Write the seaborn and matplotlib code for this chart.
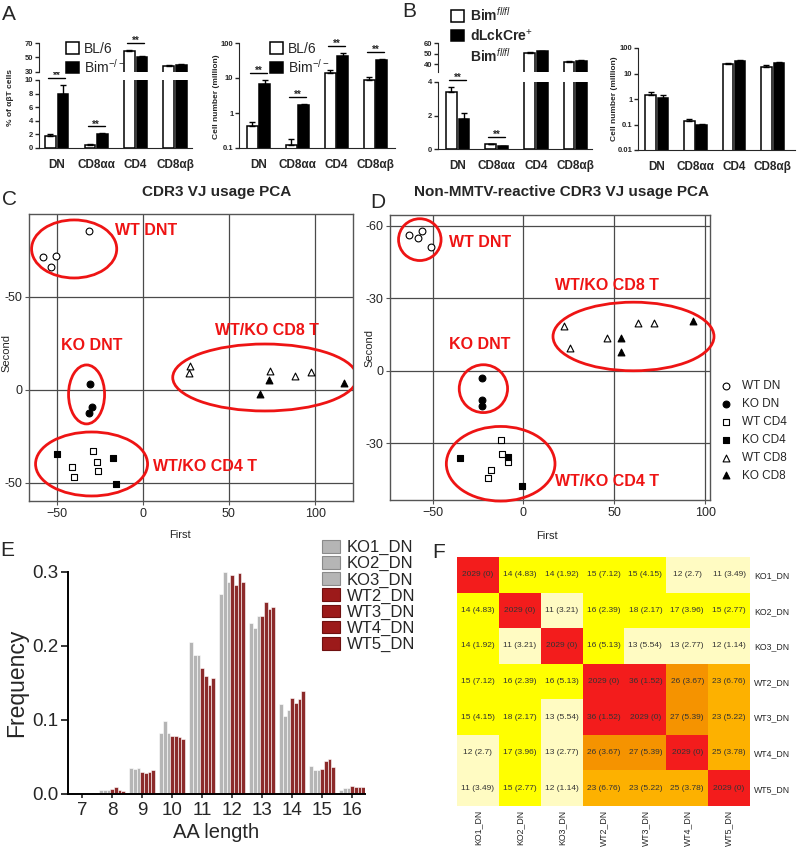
import numpy as np
import pandas as pd
import matplotlib
matplotlib.use('Agg')
import matplotlib.pyplot as plt
import seaborn as sns
from matplotlib.patches import Ellipse, Patch
from matplotlib.colors import ListedColormap, BoundaryNorm
from matplotlib.ticker import NullLocator

sns.set_style('ticks')
plt.rcParams['font.family'] = ['Liberation Sans', 'DejaVu Sans']
plt.rcParams['mathtext.fontset'] = 'custom'
plt.rcParams['mathtext.rm'] = 'Liberation Sans'
plt.rcParams['mathtext.it'] = 'Liberation Sans:italic'
plt.rcParams['mathtext.bf'] = 'Liberation Sans:bold'

# ---------------- data ----------------
cells = ['DN', 'CD8αα', 'CD4', 'CD8αβ']

# A: BL/6 vs Bim-/-
a_pct_bl6 = [1.8, 0.5, 59.5, 38.5]
a_pct_bl6_err = [0.25, 0.1, 0.8, 0.6]
a_pct_bim = [8.0, 2.0, 51.0, 39.5]
a_pct_bim_err = [1.3, 0.15, 1.5, 2.0]
a_pct_sig = [True, True, True, False]
a_num_bl6 = [0.43, 0.12, 13.5, 8.5]
a_num_bl6_err = [0.13, 0.06, 3.0, 2.0]
a_num_bim = [6.8, 1.65, 42.0, 32.0]
a_num_bim_err = [1.8, 0.2, 10.0, 4.0]
a_num_sig = [True, True, True, True]

# B: Bim fl/fl vs dLckCre+ Bim fl/fl
b_pct_flox = [3.4, 0.3, 50.5, 42.0]
b_pct_flox_err = [0.3, 0.02, 1.2, 0.8]
b_pct_cre = [1.8, 0.15, 52.0, 43.0]
b_pct_cre_err = [0.35, 0.02, 0.4, 0.4]
b_pct_sig = [True, True, False, False]
b_num_flox = [1.5, 0.135, 23.0, 18.5]
b_num_flox_err = [0.35, 0.035, 3.0, 4.0]
b_num_cre = [1.1, 0.095, 31.0, 26.0]
b_num_cre_err = [0.4, 0.012, 4.0, 3.0]
b_num_sig = [False, False, False, False]

# C: CDR3 VJ usage PCA
groups = ['WT DN', 'KO DN', 'WT CD4', 'KO CD4', 'WT CD8', 'KO CD8']
c_group = ['WT DN'] * 4 + ['KO DN'] * 3 + ['WT CD4'] * 5 + ['KO CD4'] * 3 + ['WT CD8'] * 5 + ['KO CD8'] * 3
c_first = [-31.4, -57.6, -53.5, -50.6,
           -30.8, -29.7, -31.4,
           -29.0, -41.3, -40.0, -26.7, -26.2,
           -50.0, -17.4, -15.7,
           27.3, 26.7, 73.8, 88.4, 97.7,
           73.2, 68.0, 116.9]
c_second = [-85.5, -71.5, -66.0, -72.0,
            -3.2, 9.0, 12.4,
            32.8, 41.4, 46.8, 38.7, 43.5,
            34.4, 36.6, 50.5,
            -12.9, -9.0, -10.2, -7.5, -9.7,
            -5.4, 2.2, -3.8]

# D: Non-MMTV-reactive CDR3 VJ usage PCA
d_group = ['WT DN'] * 4 + ['KO DN'] * 3 + ['WT CD4'] * 5 + ['KO CD4'] * 3 + ['WT CD8'] * 5 + ['KO CD8'] * 3
d_first = [-63.0, -58.2, -56.0, -51.1,
           -22.8, -22.8, -22.8,
           -12.5, -12.0, -17.9, -8.2, -19.6,
           -34.8, -8.2, -0.5,
           22.3, 25.5, 46.2, 63.0, 71.7,
           53.8, 53.8, 93.5]
d_second = [-56.4, -55.1, -58.0, -51.4,
            2.9, 12.0, 14.4,
            28.8, 34.6, 41.2, 37.9, 44.4,
            36.2, 35.8, 47.7,
            -18.5, -9.5, -13.6, -19.8, -19.8,
            -13.6, -7.8, -20.6]

# E: CDR3 length distribution
aa_length = [7, 8, 9, 10, 11, 12, 13, 14, 15, 16]
ko1_dn = [0.002, 0.005, 0.035, 0.083, 0.205, 0.270, 0.231, 0.122, 0.038, 0.006]
ko2_dn = [0.001, 0.006, 0.034, 0.098, 0.188, 0.300, 0.225, 0.106, 0.032, 0.008]
ko3_dn = [0.001, 0.006, 0.035, 0.083, 0.188, 0.287, 0.240, 0.114, 0.033, 0.008]
wt2_dn = [0.0005, 0.007, 0.030, 0.079, 0.170, 0.296, 0.240, 0.130, 0.034, 0.011]
wt3_dn = [0.001, 0.010, 0.029, 0.078, 0.160, 0.283, 0.259, 0.123, 0.045, 0.010]
wt4_dn = [0.0005, 0.006, 0.030, 0.077, 0.147, 0.299, 0.250, 0.129, 0.047, 0.009]
wt5_dn = [0.001, 0.004, 0.033, 0.075, 0.157, 0.287, 0.253, 0.139, 0.037, 0.010]
samples = ['KO1_DN', 'KO2_DN', 'KO3_DN', 'WT2_DN', 'WT3_DN', 'WT4_DN', 'WT5_DN']

# F: shared clones (p value)
shared = [[2029, 14, 14, 15, 15, 12, 11],
          [14, 2029, 11, 16, 18, 17, 15],
          [14, 11, 2029, 16, 13, 13, 12],
          [15, 16, 16, 2029, 36, 26, 23],
          [15, 18, 13, 36, 2029, 27, 23],
          [12, 17, 13, 26, 27, 2029, 25],
          [11, 15, 12, 23, 23, 25, 2029]]
shared_p = [[0, 4.83, 1.92, 7.12, 4.15, 2.7, 3.49],
            [4.83, 0, 3.21, 2.39, 2.17, 3.96, 2.77],
            [1.92, 3.21, 0, 5.13, 5.54, 2.77, 1.14],
            [7.12, 2.39, 5.13, 0, 1.52, 3.67, 6.76],
            [4.15, 2.17, 5.54, 1.52, 0, 5.39, 5.22],
            [2.7, 3.96, 2.77, 3.67, 5.39, 0, 3.78],
            [3.49, 2.77, 1.14, 6.76, 5.22, 3.78, 0]]

# ---------------- layout helpers ----------------
W, H = 800, 848
fig = plt.figure(figsize=(W / 100, H / 100), dpi=100)


def box(x0, y0, x1, y1):
    # pixel box (origin top-left) -> figure fraction rect
    return [x0 / W, 1 - y1 / H, (x1 - x0) / W, (y1 - y0) / H]


def px_above(ax, y, px):
    d = ax.transData.transform((0, y))[1] + px
    return ax.transData.inverted().transform((0, d))[1]


def bold_ticks(ax, size):
    for lab in ax.get_yticklabels():
        lab.set_fontweight('bold')
        lab.set_fontsize(size)


def draw_bars(ax, wt, wt_err, mut, mut_err, ylim, xlim, log=False):
    df = pd.DataFrame({'cell': cells * 2, 'val': wt + mut,
                       'grp': ['wt'] * len(cells) + ['mut'] * len(cells)})
    sns.barplot(data=df, x='cell', y='val', hue='grp', palette=['white', 'black'],
                edgecolor='black', linewidth=1.1, width=0.64, gap=0.15,
                errorbar=None, legend=False, ax=ax)
    if log:
        ax.set_yscale('log')
    ax.set_ylim(*ylim)
    ax.set_xlim(*xlim)
    bars = list(ax.patches)
    for p, e in zip(bars, wt_err + mut_err):
        ax.errorbar(p.get_x() + p.get_width() / 2, p.get_height(), yerr=[[0], [e]],
                    fmt='none', ecolor='black', elinewidth=1, capsize=2.2, capthick=1)
    ax.set_xlabel('')
    ax.set_ylabel('')
    sns.despine(ax=ax)
    ax.tick_params(axis='x', length=0, pad=8)
    ax.tick_params(axis='y', length=3, width=1, pad=1)
    for lab in ax.get_xticklabels():
        lab.set_fontweight('bold')
        lab.set_fontsize(8.5)
    return bars


def draw_sig(axes, bars, tops, sig):
    n = len(cells)
    for i in range(n):
        if not sig[i]:
            continue
        top = max(tops[i], tops[i + n])
        ax = axes[0]
        if len(axes) > 1 and top > axes[0].get_ylim()[1]:
            ax = axes[1]
        y = px_above(ax, top, 7)
        x0 = bars[i].get_x() + bars[i].get_width() * 0.3
        x1 = bars[i + n].get_x() + bars[i + n].get_width() * 0.7
        ax.plot([x0, x1], [y, y], color='black', lw=1, clip_on=False)
        ax.text((x0 + x1) / 2, px_above(ax, y, -1), '**', ha='center', va='baseline',
                fontsize=7, fontweight='bold', clip_on=False)


# ---------------- A ----------------
a_lo = fig.add_axes(box(39, 80, 192, 148))
a_hi = fig.add_axes(box(39, 43, 192, 72))
bars = draw_bars(a_lo, a_pct_bl6, a_pct_bl6_err, a_pct_bim, a_pct_bim_err, (0, 10), (-0.45, 3.43))
draw_bars(a_hi, a_pct_bl6, a_pct_bl6_err, a_pct_bim, a_pct_bim_err, (30, 70), (-0.45, 3.43))
a_lo.set_yticks([0, 2, 4, 6, 8, 10])
a_hi.set_yticks([30, 50, 70])
sns.despine(ax=a_hi, bottom=True)
a_hi.tick_params(axis='x', bottom=False, labelbottom=False)
bold_ticks(a_lo, 5.5)
bold_ticks(a_hi, 5.5)
tops = [v + e for v, e in zip(a_pct_bl6 + a_pct_bim, a_pct_bl6_err + a_pct_bim_err)]
draw_sig([a_lo, a_hi], bars, tops, a_pct_sig)
fig.text(11 / W, 1 - 97 / H, '% of αβT cells', rotation=90, ha='center', va='center',
         fontsize=6, fontweight='bold')

a_num = fig.add_axes(box(239, 43, 395, 148))
bars = draw_bars(a_num, a_num_bl6, a_num_bl6_err, a_num_bim, a_num_bim_err, (0.1, 100), (-0.5, 3.5), log=True)
a_num.set_yticks([0.1, 1, 10, 100], ['0.1', '1', '10', '100'])
a_num.yaxis.set_minor_locator(NullLocator())
bold_ticks(a_num, 5.5)
tops = [v + e for v, e in zip(a_num_bl6 + a_num_bim, a_num_bl6_err + a_num_bim_err)]
draw_sig([a_num], bars, tops, a_num_sig)
fig.text(216 / W, 1 - 97 / H, 'Cell number (million)', rotation=90, ha='center', va='center',
         fontsize=6, fontweight='bold')

a_handles = [Patch(facecolor='white', edgecolor='black', lw=1.1),
             Patch(facecolor='black', edgecolor='black', lw=1.1)]
for lx in (66, 270):
    fig.legend(handles=a_handles, labels=['BL/6', 'Bim$^{-/-}$'], loc='upper left',
               bbox_to_anchor=(lx / W, 1 - 42 / H), frameon=False, fontsize=10,
               handlelength=0.9, handleheight=0.9, handletextpad=0.4, labelspacing=0.1,
               borderpad=0, borderaxespad=0)

# ---------------- B ----------------
b_lo = fig.add_axes(box(438, 82, 592, 149))
b_hi = fig.add_axes(box(438, 43, 592, 72))
bars = draw_bars(b_lo, b_pct_flox, b_pct_flox_err, b_pct_cre, b_pct_cre_err, (0, 4), (-0.5, 3.43))
draw_bars(b_hi, b_pct_flox, b_pct_flox_err, b_pct_cre, b_pct_cre_err, (32.4, 60), (-0.5, 3.43))
b_lo.set_yticks([0, 2, 4])
b_hi.set_yticks([40, 50, 60])
sns.despine(ax=b_hi, bottom=True)
b_hi.tick_params(axis='x', bottom=False, labelbottom=False)
bold_ticks(b_lo, 5.5)
bold_ticks(b_hi, 5.5)
tops = [v + e for v, e in zip(b_pct_flox + b_pct_cre, b_pct_flox_err + b_pct_cre_err)]
draw_sig([b_lo, b_hi], bars, tops, b_pct_sig)

b_num = fig.add_axes(box(638, 48, 795, 150))
draw_bars(b_num, b_num_flox, b_num_flox_err, b_num_cre, b_num_cre_err, (0.01, 100), (-0.49, 3.58), log=True)
b_num.set_yticks([0.01, 0.1, 1, 10, 100], ['0.01', '0.1', '1', '10', '100'])
b_num.yaxis.set_minor_locator(NullLocator())
bold_ticks(b_num, 5.5)
fig.text(614 / W, 1 - 99 / H, 'Cell number (million)', rotation=90, ha='center', va='center',
         fontsize=6, fontweight='bold')

b_handles = [Patch(facecolor='white', edgecolor='black', lw=1.1),
             Patch(facecolor='black', edgecolor='black', lw=1.1),
             Patch(facecolor='none', edgecolor='none')]
fig.legend(handles=b_handles, labels=['Bim$^{fl/fl}$', 'dLckCre$^{+}$', 'Bim$^{fl/fl}$'],
           loc='upper left', bbox_to_anchor=(451 / W, 1 - 6 / H), frameon=False,
           prop={'size': 10, 'weight': 'bold'}, handlelength=0.9, handleheight=0.9,
           handletextpad=0.5, labelspacing=0.25, borderpad=0, borderaxespad=0)

# ---------------- C / D : PCA ----------------
red = '#ee1414'
styles = {'WT DN': ('o', 'white'), 'KO DN': ('o', 'black'),
          'WT CD4': ('s', 'white'), 'KO CD4': ('s', 'black'),
          'WT CD8': ('^', 'white'), 'KO CD8': ('^', 'black')}


def pca_panel(ax, first, second, grp, xlim, ylim, yticks, yticklabels):
    df = pd.DataFrame({'First': first, 'Second': second, 'group': grp})
    for g in groups:
        m, fc = styles[g]
        sns.scatterplot(data=df[df['group'] == g], x='First', y='Second', marker=m,
                        color=fc, edgecolor='black', linewidth=0.8, s=24,
                        legend=False, ax=ax, zorder=3)
    ax.set_xlim(*xlim)
    ax.set_ylim(*ylim)
    ax.set_xticks([-50, 0, 50, 100])
    ax.set_yticks(yticks, yticklabels)
    ax.grid(True, color='#4a4a4a', lw=0.9)
    ax.set_axisbelow(True)
    for s in ax.spines.values():
        s.set_color('#555555')
        s.set_linewidth(1.0)
    ax.tick_params(length=3, color='#555555', labelsize=9, pad=2)
    ax.xaxis.label.set_size(8)
    ax.yaxis.label.set_size(8)


ax_c = fig.add_axes(box(29, 214, 353, 501))
pca_panel(ax_c, c_first, c_second, c_group, (-66, 122), (59.7, -94.6),
          [-50, 0, 50], ['-50', '0', '-50'])
ax_c.xaxis.set_label_coords(0.466, -0.10)
ax_c.yaxis.set_label_coords(-0.055, 0.516)
for (cx, cy, w, h) in [(-39.8, -75.8, 49.4, 31.2), (-32.6, 2.4, 20.9, 31.7),
                       (70.9, -6.7, 107, 36), (-29.7, 39.8, 65, 34.4)]:
    ax_c.add_patch(Ellipse((cx, cy), w, h, fill=False, edgecolor=red, lw=2, zorder=4))
ax_c.text(-16.3, -85.5, 'WT DNT', color=red, fontsize=11.5, fontweight='bold', ha='left', va='center')
ax_c.text(-29.4, -23.7, 'KO DNT', color=red, fontsize=11.5, fontweight='bold', ha='center', va='center')
ax_c.text(72, -31.7, 'WT/KO CD8 T', color=red, fontsize=11.5, fontweight='bold', ha='center', va='center')
ax_c.text(5.8, 41.4, 'WT/KO CD4 T', color=red, fontsize=11.5, fontweight='bold', ha='left', va='center')
fig.text(217 / W, 1 - 192 / H, 'CDR3 VJ usage PCA', ha='center', va='center',
         fontsize=11, fontweight='bold')

ax_d = fig.add_axes(box(390, 215, 710, 500))
pca_panel(ax_d, d_first, d_second, d_group, (-73.4, 102.7), (53.5, -64.5),
          [-60, -30, 0, 30], ['-60', '-30', '0', '-30'])
ax_d.xaxis.set_label_coords(0.49, -0.11)
ax_d.yaxis.set_label_coords(-0.047, 0.535)
for (cx, cy, w, h) in [(-57, -54.3, 23.4, 17.3), (-22, 7.4, 26.6, 19.8),
                       (60.6, -14.2, 88.6, 28.4), (-12.5, 38.5, 59.8, 30.9)]:
    ax_d.add_patch(Ellipse((cx, cy), w, h, fill=False, edgecolor=red, lw=2, zorder=4,
                           clip_on=False))
ax_d.text(-40.8, -53, 'WT DNT', color=red, fontsize=11.5, fontweight='bold', ha='left', va='center')
ax_d.text(-24.2, -10.7, 'KO DNT', color=red, fontsize=11.5, fontweight='bold', ha='center', va='center')
ax_d.text(46.2, -35.4, 'WT/KO CD8 T', color=red, fontsize=11.5, fontweight='bold', ha='center', va='center')
ax_d.text(46.2, 45.7, 'WT/KO CD4 T', color=red, fontsize=11.5, fontweight='bold', ha='center', va='center')
fig.text(561 / W, 1 - 192 / H, 'Non-MMTV-reactive CDR3 VJ usage PCA', ha='center', va='center',
         fontsize=11, fontweight='bold')
fig.legend(handles=ax_d.collections[:6], labels=groups, loc='upper left',
           bbox_to_anchor=(720 / W, 1 - 380 / H), frameon=False, fontsize=8.5,
           handletextpad=0.9, labelspacing=0.5, borderpad=0, borderaxespad=0,
           handlelength=1.0)

# ---------------- E ----------------
e_vals = [ko1_dn, ko2_dn, ko3_dn, wt2_dn, wt3_dn, wt4_dn, wt5_dn]
e_df = pd.DataFrame({'length': aa_length * len(samples),
                     'freq': sum(e_vals, []),
                     'sample': np.repeat(samples, len(aa_length))})
ko_col, wt_col = '#b5b5b5', '#9c1a1a'
e_colors = [ko_col] * 3 + [wt_col] * 4
ax_e = fig.add_axes(box(68, 572, 365, 794))
sns.barplot(data=e_df, x='length', y='freq', hue='sample', palette=e_colors, width=0.86,
            edgecolor='white', linewidth=0.4, errorbar=None, legend=False, ax=ax_e)
ax_e.set_ylim(0, 0.3)
ax_e.set_xlim(-0.47, 9.43)
ax_e.set_yticks([0, 0.1, 0.2, 0.3], ['0.0', '0.1', '0.2', '0.3'])
sns.despine(ax=ax_e)
for s in ['left', 'bottom']:
    ax_e.spines[s].set_linewidth(1.4)
    ax_e.spines[s].set_color('black')
ax_e.tick_params(axis='y', length=5, width=1.3, labelsize=13.5, pad=2)
ax_e.tick_params(axis='x', length=3, width=1.2, labelsize=13.5, pad=3)
ax_e.set_ylabel('Frequency', fontsize=16.5)
ax_e.set_xlabel('AA length', fontsize=14.5)
ax_e.yaxis.set_label_coords(-0.135, 0.5)
ax_e.xaxis.set_label_coords(0.5, -0.13)
e_handles = [Patch(facecolor=c, edgecolor='#8a8a8a' if c == ko_col else '#6e1010', lw=0.8)
             for c in e_colors]
fig.legend(handles=e_handles, labels=samples, loc='upper left',
           bbox_to_anchor=(322 / W, 1 - 540 / H), frameon=False, fontsize=12,
           handlelength=1.1, handleheight=0.8, handletextpad=0.4, labelspacing=0.05,
           borderpad=0, borderaxespad=0)

# ---------------- F ----------------
annot = np.array([[f'{c} ({p:g})' for c, p in zip(cr, pr)] for cr, pr in zip(shared, shared_p)])
f_cmap = ListedColormap(['#fffbc2', '#ffff00', '#fdb100', '#f59300', '#f31c1c'])
f_norm = BoundaryNorm([0, 13.5, 20, 25.5, 30, 3000], 5)
ax_f = fig.add_axes(box(457, 557, 750, 806))
sns.heatmap(pd.DataFrame(shared, index=samples, columns=samples), annot=annot, fmt='',
            cmap=f_cmap, norm=f_norm, cbar=False, ax=ax_f,
            annot_kws={'size': 6, 'color': '#333333'})
ax_f.yaxis.tick_right()
ax_f.tick_params(length=0, labelsize=6.3, pad=3)
plt.setp(ax_f.get_yticklabels(), rotation=0)
plt.setp(ax_f.get_xticklabels(), rotation=90)

# ---------------- panel letters ----------------
for letter, (x, y) in {'A': (2, 5), 'B': (402, 2), 'C': (2, 190), 'D': (370, 193),
                       'E': (0, 541), 'F': (432, 543)}.items():
    fig.text(x / W, 1 - y / H, letter, ha='left', va='top', fontsize=15)

fig.savefig('out.png', dpi=100)
